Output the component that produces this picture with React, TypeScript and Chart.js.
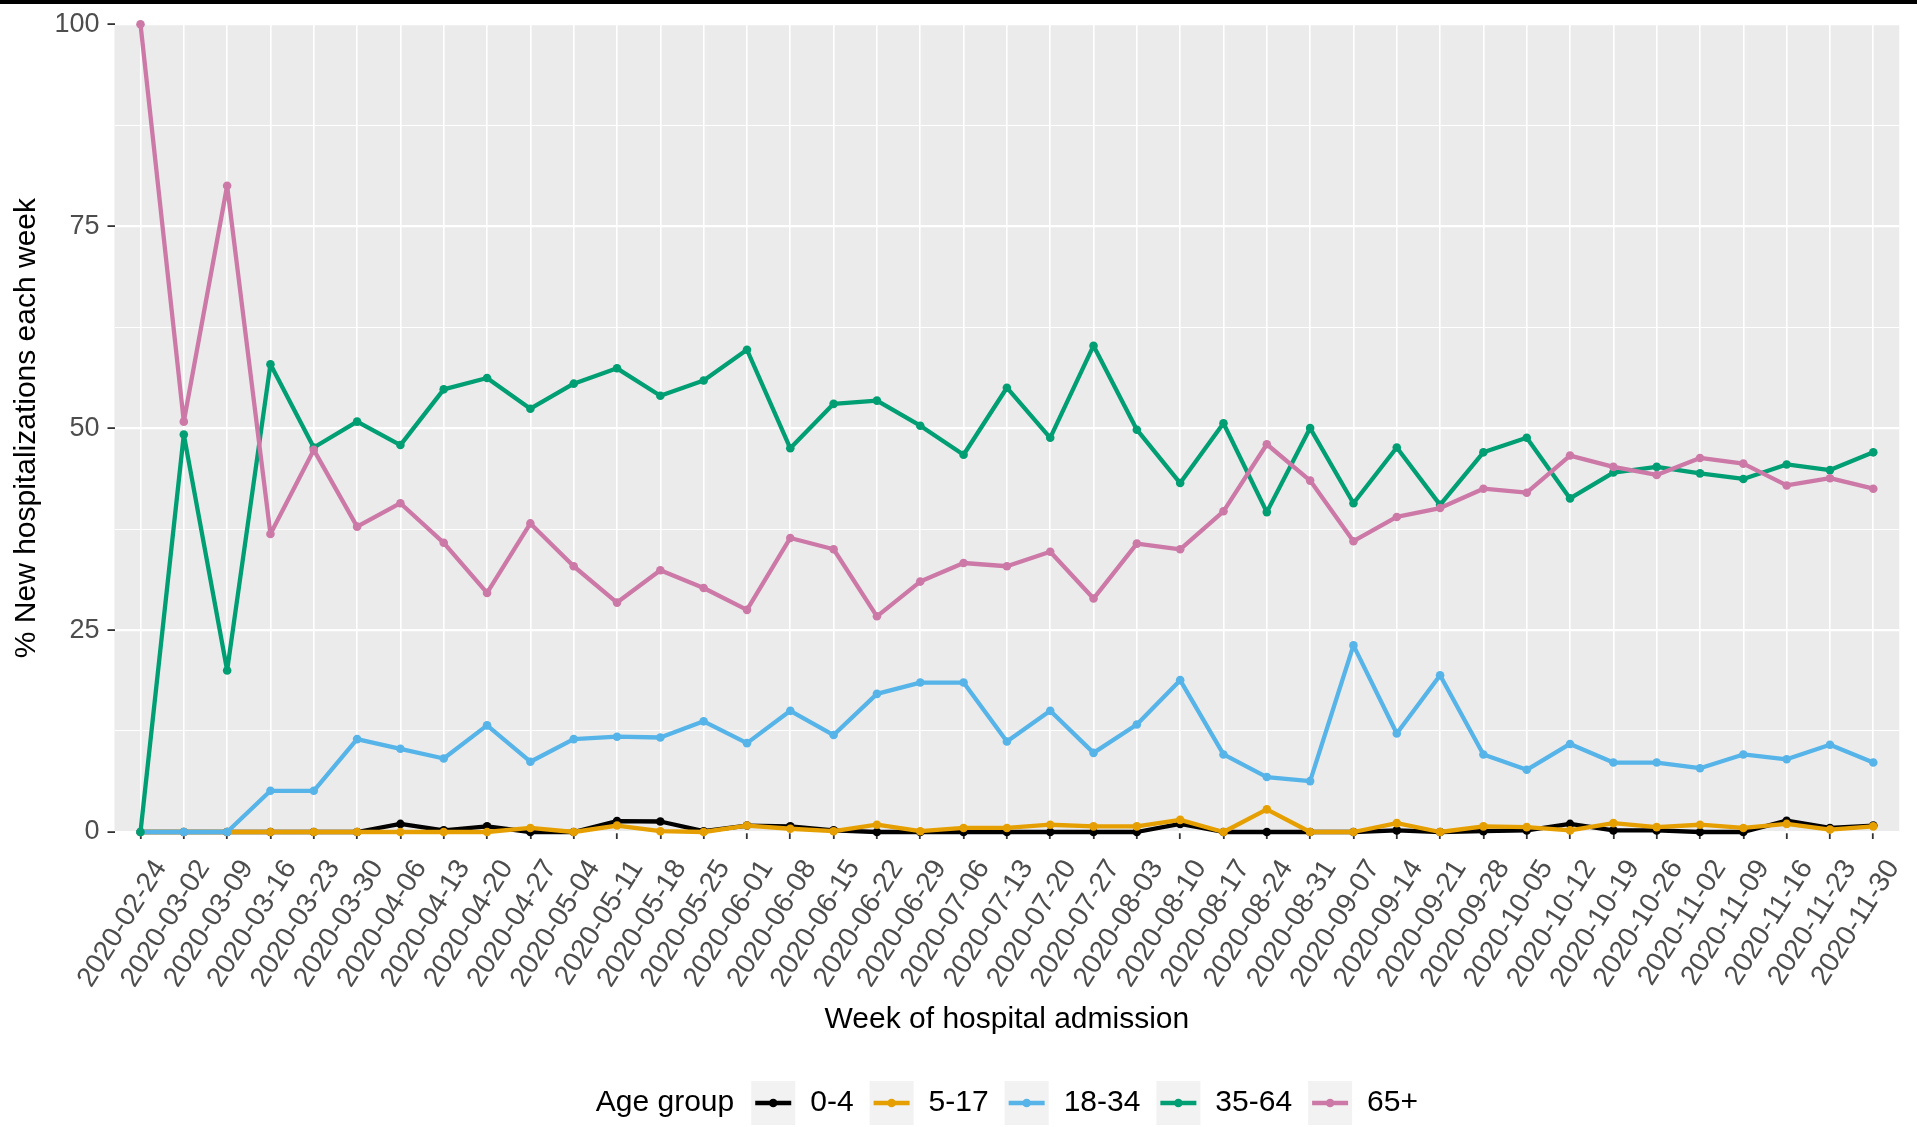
import React, { useEffect, useRef } from 'react';
import { Chart, registerables } from 'chart.js';

Chart.register(...registerables);

const weeks = [
  '2020-02-24', '2020-03-02', '2020-03-09', '2020-03-16', '2020-03-23', '2020-03-30',
  '2020-04-06', '2020-04-13', '2020-04-20', '2020-04-27', '2020-05-04', '2020-05-11',
  '2020-05-18', '2020-05-25', '2020-06-01', '2020-06-08', '2020-06-15', '2020-06-22',
  '2020-06-29', '2020-07-06', '2020-07-13', '2020-07-20', '2020-07-27', '2020-08-03',
  '2020-08-10', '2020-08-17', '2020-08-24', '2020-08-31', '2020-09-07', '2020-09-14',
  '2020-09-21', '2020-09-28', '2020-10-05', '2020-10-12', '2020-10-19', '2020-10-26',
  '2020-11-02', '2020-11-09', '2020-11-16', '2020-11-23', '2020-11-30',
];

const age0to4 = [
  0, 0, 0, 0, 0, 0, 1.0, 0.2, 0.7, 0, 0, 1.35, 1.3, 0.1, 0.8, 0.7, 0.2, 0, 0, 0,
  0, 0, 0, 0, 1.0, 0, 0, 0, 0, 0.2, 0, 0.1, 0.2, 1.0, 0.2, 0.2, 0, 0, 1.4, 0.5, 0.8,
];
const age5to17 = [
  0, 0, 0, 0, 0, 0, 0, 0, 0, 0.5, 0, 0.8, 0.1, 0, 0.8, 0.4, 0.1, 0.9, 0.1, 0.5,
  0.5, 0.9, 0.7, 0.7, 1.5, 0, 2.8, 0, 0, 1.1, 0, 0.7, 0.6, 0.2, 1.1, 0.6, 0.9, 0.5, 1.0, 0.3, 0.7,
];
const age18to34 = [
  0, 0, 0, 5.1, 5.1, 11.5, 10.3, 9.1, 13.2, 8.7, 11.5, 11.8, 11.7, 13.7, 11.0, 15.0, 12.0, 17.1, 18.5, 18.5,
  11.2, 15.0, 9.8, 13.3, 18.8, 9.6, 6.8, 6.3, 23.1, 12.2, 19.4, 9.6, 7.7, 10.9, 8.6, 8.6, 7.9, 9.6, 9.0, 10.8, 8.6,
];
const age35to64 = [
  0, 49.2, 20.0, 57.9, 47.6, 50.8, 47.9, 54.8, 56.2, 52.4, 55.5, 57.4, 54.0, 55.9, 59.7, 47.5, 53.0, 53.4, 50.3, 46.7,
  55.0, 48.8, 60.2, 49.8, 43.2, 50.6, 39.6, 50.0, 40.7, 47.6, 40.5, 47.0, 48.8, 41.3, 44.5, 45.2, 44.4, 43.7, 45.5, 44.8, 47.0,
];
const age65plus = [
  100, 50.8, 80.0, 36.9, 47.3, 37.8, 40.7, 35.8, 29.6, 38.2, 32.9, 28.4, 32.4, 30.2, 27.5, 36.4, 35.0, 26.7, 31.0, 33.3,
  32.9, 34.7, 28.9, 35.7, 35.0, 39.7, 48.0, 43.5, 36.0, 39.0, 40.1, 42.5, 42.0, 46.6, 45.2, 44.2, 46.3, 45.6, 42.9, 43.8, 42.5,
];

const seriesNames = ['0-4', '5-17', '18-34', '35-64', '65+'];
const seriesColors = ['#000000', '#E69F00', '#56B4E9', '#009E73', '#CC79A7'];
const yTickValues = [0, 12.5, 25, 37.5, 50, 62.5, 75, 87.5, 100];
const legendTitle = 'Age group';
const xTitle = 'Week of hospital admission';
const yTitle = '% New hospitalizations each week';

const FONT = '"Liberation Sans", Arial, Helvetica, sans-serif';
const LINE_W = 4.3;
const POINT_R = 4.3;

export default function App() {
  const ref = useRef<HTMLCanvasElement>(null);

  useEffect(() => {
    document.body.style.margin = '0';
    const canvas = ref.current;
    if (!canvas) return;
    const seriesValues = [age0to4, age5to17, age18to34, age35to64, age65plus];

    const panelPlugin = {
      id: 'panelBg',
      beforeDraw(chart: any) {
        const { ctx, chartArea: a } = chart;
        ctx.save();
        ctx.fillStyle = '#EBEBEB';
        ctx.fillRect(a.left, a.top, a.right - a.left, a.bottom - a.top);
        ctx.restore();
      },
    };

    const legendPlugin = {
      id: 'ggLegend',
      afterDraw(chart: any) {
        const { ctx, chartArea: a } = chart;
        ctx.save();
        ctx.font = `30px ${FONT}`;
        ctx.textBaseline = 'middle';
        ctx.textAlign = 'left';
        const keyW = 44;
        const gapTitle = 17;
        const gapKey = 15;
        const gapItem = 16;
        const titleW = ctx.measureText(legendTitle).width;
        const labelWs = seriesNames.map((n) => ctx.measureText(n).width);
        const total =
          titleW + gapTitle + labelWs.reduce((s, w) => s + w, 0) +
          seriesNames.length * (keyW + gapKey) + (seriesNames.length - 1) * gapItem;
        let x = (a.left + a.right) / 2 - total / 2;
        const cy = chart.height - 24;
        ctx.fillStyle = '#000000';
        ctx.fillText(legendTitle, x, cy);
        x += titleW + gapTitle;
        seriesNames.forEach((n, i) => {
          ctx.fillStyle = '#F2F2F2';
          ctx.fillRect(x, cy - keyW / 2, keyW, keyW);
          ctx.strokeStyle = seriesColors[i];
          ctx.lineWidth = LINE_W;
          ctx.beginPath();
          ctx.moveTo(x + 4, cy);
          ctx.lineTo(x + keyW - 4, cy);
          ctx.stroke();
          ctx.fillStyle = seriesColors[i];
          ctx.beginPath();
          ctx.arc(x + keyW / 2, cy, POINT_R, 0, Math.PI * 2);
          ctx.fill();
          x += keyW + gapKey;
          ctx.fillStyle = '#000000';
          ctx.fillText(n, x, cy);
          x += labelWs[i] + gapItem;
        });
        ctx.restore();
      },
    };

    const chart = new Chart(canvas, {
      type: 'line',
      data: {
        datasets: seriesNames.map((name, i) => ({
          label: name,
          data: seriesValues[i].map((v, j) => ({ x: j, y: v })),
          borderColor: seriesColors[i],
          backgroundColor: seriesColors[i],
          pointBackgroundColor: seriesColors[i],
          pointBorderWidth: 0,
          pointRadius: POINT_R,
          pointHoverRadius: POINT_R,
          borderWidth: LINE_W,
          borderJoinStyle: 'round' as const,
          tension: 0,
          clip: false as any,
          order: seriesNames.length - 1 - i,
        })),
      },
      options: {
        animation: false,
        responsive: false,
        devicePixelRatio: 1,
        events: [],
        layout: { padding: { top: 17, right: 15, bottom: 80, left: 0 } },
        plugins: {
          legend: { display: false },
          tooltip: { enabled: false },
        },
        scales: {
          x: {
            type: 'linear',
            min: -0.6,
            max: 40.6,
            afterBuildTicks: (scale: any) => {
              scale.ticks = weeks.map((_, i) => ({ value: i }));
            },
            afterFit: (scale: any) => {
              scale.height = 215;
            },
            ticks: {
              autoSkip: false,
              minRotation: 58,
              maxRotation: 58,
              padding: 15,
              labelOffset: 20,
              color: '#4D4D4D',
              font: { family: FONT, size: 28 },
              callback: (v: any) => weeks[Math.round(Number(v))] ?? '',
            },
            grid: {
              color: '#FFFFFF',
              lineWidth: 1.6,
              tickColor: '#333333',
              tickLength: 7,
              tickWidth: 1.8,
            },
            border: { display: false },
            title: {
              display: true,
              text: xTitle,
              color: '#000000',
              font: { family: FONT, size: 30 },
              padding: { top: 0, bottom: 9.5 },
            },
          },
          y: {
            type: 'linear',
            min: 0,
            max: 100,
            afterBuildTicks: (scale: any) => {
              scale.ticks = yTickValues.map((v) => ({ value: v }));
            },
            afterFit: (scale: any) => {
              scale.width = 114.5;
            },
            ticks: {
              padding: 8,
              color: '#4D4D4D',
              font: { family: FONT, size: 27 },
              callback: (v: any) => (Number(v) % 25 === 0 ? String(v) : ''),
            },
            grid: {
              color: '#FFFFFF',
              lineWidth: (c: any) => (c.tick && c.tick.value % 25 === 0 ? 2.2 : 1.1),
              tickColor: (c: any) => (c.tick && c.tick.value % 25 === 0 ? '#333333' : 'rgba(0,0,0,0)'),
              tickLength: 7,
              tickWidth: 1.8,
            },
            border: { display: false },
            title: {
              display: true,
              text: yTitle,
              color: '#000000',
              font: { family: FONT, size: 30 },
              padding: { top: 9, bottom: 0 },
            },
          },
        },
      },
      plugins: [panelPlugin, legendPlugin],
    } as any);

    return () => {
      chart.destroy();
    };
  }, []);

  return (
    <div style={{ position: 'relative', width: 1917, height: 1127, background: '#FFFFFF', overflow: 'hidden' }}>
      <canvas ref={ref} width={1917} height={1127} style={{ display: 'block', width: 1917, height: 1127 }} />
      <div style={{ position: 'absolute', left: 0, top: 0, width: '100%', height: 4, background: '#000000' }} />
    </div>
  );
}
